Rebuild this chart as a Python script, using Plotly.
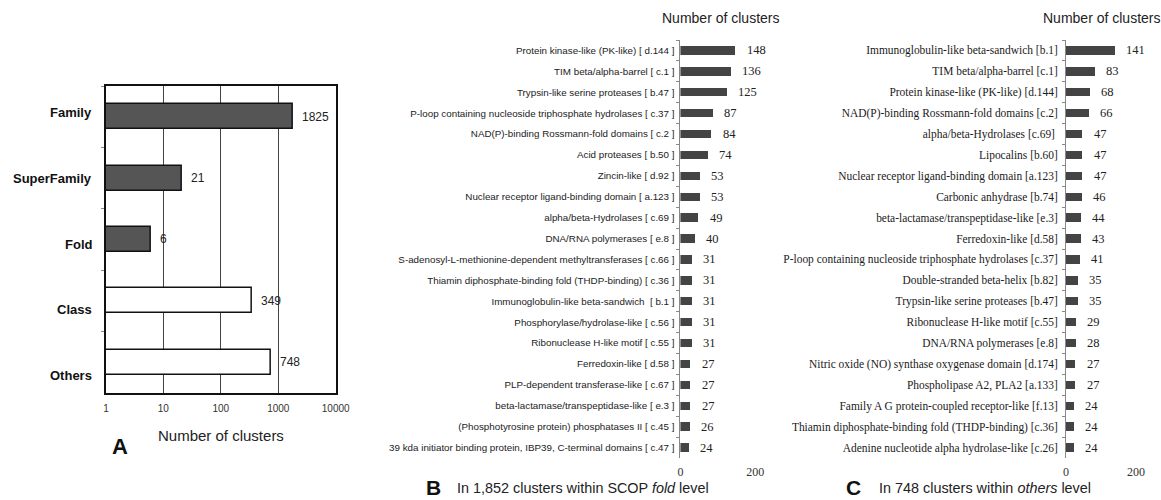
import numpy as np
import plotly.graph_objects as go

W, H = 1161, 500
FIG_W = 1177  # browser viewport renders slightly wider than the image

# ---- Data ----
a_categories = ["Family", "SuperFamily", "Fold", "Class", "Others"]
a_values = [1825, 21, 6, 349, 748]
a_filled = [True, True, True, False, False]

b_categories = [
    "Protein kinase-like (PK-like) [ d.144 ]",
    "TIM beta/alpha-barrel [ c.1 ]",
    "Trypsin-like serine proteases [ b.47 ]",
    "P-loop containing nucleoside triphosphate hydrolases [ c.37 ]",
    "NAD(P)-binding Rossmann-fold domains [ c.2 ]",
    "Acid proteases [ b.50 ]",
    "Zincin-like [ d.92 ]",
    "Nuclear receptor ligand-binding domain [ a.123 ]",
    "alpha/beta-Hydrolases [ c.69 ]",
    "DNA/RNA polymerases [ e.8 ]",
    "S-adenosyl-L-methionine-dependent methyltransferases [ c.66 ]",
    "Thiamin diphosphate-binding fold (THDP-binding) [ c.36 ]",
    "Immunoglobulin-like beta-sandwich  [ b.1 ]",
    "Phosphorylase/hydrolase-like [ c.56 ]",
    "Ribonuclease H-like motif [ c.55 ]",
    "Ferredoxin-like [ d.58 ]",
    "PLP-dependent transferase-like [ c.67 ]",
    "beta-lactamase/transpeptidase-like [ e.3 ]",
    "(Phosphotyrosine protein) phosphatases II [ c.45 ]",
    "39 kda initiator binding protein, IBP39, C-terminal domains [ c.47 ]",
]
b_values = [148, 136, 125, 87, 84, 74, 53, 53, 49, 40, 31, 31, 31, 31, 31, 27, 27, 27, 26, 24]

c_categories = [
    "Immunoglobulin-like beta-sandwich [b.1]",
    "TIM beta/alpha-barrel [c.1]",
    "Protein kinase-like (PK-like) [d.144]",
    "NAD(P)-binding Rossmann-fold domains [c.2]",
    "alpha/beta-Hydrolases [c.69] ",
    "Lipocalins [b.60]",
    "Nuclear receptor ligand-binding domain [a.123]",
    "Carbonic anhydrase [b.74]",
    "beta-lactamase/transpeptidase-like [e.3]",
    "Ferredoxin-like [d.58]",
    "P-loop containing nucleoside triphosphate hydrolases [c.37]",
    "Double-stranded beta-helix [b.82]",
    "Trypsin-like serine proteases [b.47]",
    "Ribonuclease H-like motif [c.55]",
    "DNA/RNA polymerases [e.8]",
    "Nitric oxide (NO) synthase oxygenase domain [d.174]",
    "Phospholipase A2, PLA2 [a.133]",
    "Family A G protein-coupled receptor-like [f.13]",
    "Thiamin diphosphate-binding fold (THDP-binding) [c.36]",
    "Adenine nucleotide alpha hydrolase-like [c.26]",
]
c_values = [141, 83, 68, 66, 47, 47, 47, 46, 44, 43, 41, 35, 35, 29, 28, 27, 27, 24, 24, 24]

a_ticks = [1, 10, 100, 1000, 10000]

SANS = "Liberation Sans, Arial, sans-serif"
SERIF = "Liberation Serif, Times New Roman, serif"


def px(x):
    return x / W


def py(y):
    return 1 - y / H


fig = go.Figure()

# Panel A
fig.add_trace(go.Bar(
    x=a_values, y=a_categories, orientation="h",
    marker=dict(color=["#555555" if f else "#ffffff" for f in a_filled],
                line=dict(color="#111111", width=1.5)),
    width=0.41, xaxis="x", yaxis="y", showlegend=False, hoverinfo="x+y",
))

# Panel B
fig.add_trace(go.Bar(
    x=b_values, y=b_categories, orientation="h",
    marker=dict(color="#444444", line=dict(width=0)),
    width=0.4, xaxis="x2", yaxis="y2", showlegend=False,
))

# Panel C
fig.add_trace(go.Bar(
    x=c_values, y=c_categories, orientation="h",
    marker=dict(color="#444444", line=dict(width=0)),
    width=0.4, xaxis="x3", yaxis="y3", showlegend=False,
))

annotations = []
# Panel A category labels (spread slightly wider than the bars, as in the original)
for i, c in enumerate(a_categories):
    annotations.append(dict(x=px(91), y=py(113 + 65.5 * i), xref="paper", yref="paper",
                            text="<b>%s</b>" % c, showarrow=False,
                            xanchor="right", yanchor="middle",
                            font=dict(family=SANS, size=13, color="#111")))
for c, v in zip(a_categories, a_values):
    annotations.append(dict(x=np.log10(v), y=c, xref="x", yref="y", text=str(v),
                            showarrow=False, xanchor="left", xshift=7,
                            font=dict(family=SANS, size=12, color="#222")))
for c, v in zip(b_categories, b_values):
    annotations.append(dict(x=v, y=c, xref="x2", yref="y2", text=str(v),
                            showarrow=False, xanchor="left", xshift=9,
                            font=dict(family=SERIF, size=12.5, color="#222")))
for c, v in zip(c_categories, c_values):
    annotations.append(dict(x=v, y=c, xref="x3", yref="y3", text=str(v),
                            showarrow=False, xanchor="left", xshift=9,
                            font=dict(family=SERIF, size=12.5, color="#222")))

# Titles / labels
annotations += [
    dict(x=px(218), y=py(435), xref="paper", yref="paper", text="Number of clusters",
         showarrow=False, xanchor="center", yanchor="middle",
         font=dict(family=SANS, size=15, color="#222")),
    dict(x=px(117), y=py(446), xref="paper", yref="paper", text="<b>A</b>",
         showarrow=False, xanchor="center", yanchor="middle",
         font=dict(family=SANS, size=22, color="#111")),
    dict(x=px(718), y=py(18), xref="paper", yref="paper", text="Number of clusters",
         showarrow=False, xanchor="center", yanchor="middle",
         font=dict(family=SANS, size=14, color="#222")),
    dict(x=px(1160), y=py(18), xref="paper", yref="paper", text="Number of clusters",
         showarrow=False, xanchor="right", yanchor="middle",
         font=dict(family=SANS, size=14, color="#222")),
    dict(x=px(431), y=py(487), xref="paper", yref="paper", text="<b>B</b>",
         showarrow=False, xanchor="center", yanchor="middle",
         font=dict(family=SANS, size=21, color="#111")),
    dict(x=px(452), y=py(488), xref="paper", yref="paper", xanchor="left", yanchor="middle",
         text="In 1,852 clusters within SCOP <i>fold</i> level",
         showarrow=False, font=dict(family=SANS, size=14.4, color="#222")),
    dict(x=px(851), y=py(487), xref="paper", yref="paper", text="<b>C</b>",
         showarrow=False, xanchor="center", yanchor="middle",
         font=dict(family=SANS, size=21, color="#111")),
    dict(x=px(875), y=py(488), xref="paper", yref="paper", xanchor="left", yanchor="middle",
         text="In 748 clusters within <i>others</i> level",
         showarrow=False, font=dict(family=SANS, size=14.4, color="#222")),
]

fig.update_layout(
    width=FIG_W, height=H,
    margin=dict(l=0, r=0, t=0, b=0),
    paper_bgcolor="white", plot_bgcolor="white",
    bargap=0,
    annotations=annotations,
    xaxis=dict(
        domain=[px(103), px(333)], anchor="y", type="log", range=[0, 4],
        tickvals=a_ticks, ticktext=[str(t) for t in a_ticks],
        showgrid=True, gridcolor="#444444", gridwidth=1,
        showline=True, linecolor="#111111", linewidth=2, mirror=True,
        ticks="", zeroline=False, ticklabelstandoff=5,
        tickfont=dict(family=SANS, size=10, color="#333"),
    ),
    yaxis=dict(
        domain=[py(393), py(86)], anchor="x", autorange="reversed",
        categoryorder="array", categoryarray=a_categories,
        showline=True, linecolor="#111111", linewidth=2, mirror=True,
        ticks="outside", tickson="boundaries", ticklen=3, tickcolor="#888",
        showgrid=False, showticklabels=False,
    ),
    xaxis2=dict(
        domain=[px(678), px(753)], anchor="y2", range=[0, 200],
        tickvals=[0, 200], showgrid=True, gridcolor="#888888", gridwidth=1,
        showline=False, zeroline=False, ticks="", ticklabelstandoff=5,
        tickfont=dict(family=SERIF, size=12, color="#333"),
    ),
    yaxis2=dict(
        domain=[py(458), py(40)], anchor="x2", autorange="reversed",
        categoryorder="array", categoryarray=b_categories,
        showline=True, linecolor="#888888", linewidth=1,
        ticks="outside", tickson="boundaries", ticklen=3, tickcolor="#888",
        showgrid=False, ticklabelstandoff=3,
        tickfont=dict(family=SANS, size=9.8, color="#222"),
    ),
    xaxis3=dict(
        domain=[px(1064), px(1134)], anchor="y3", range=[0, 200],
        tickvals=[0, 200], showgrid=True, gridcolor="#888888", gridwidth=1,
        showline=False, zeroline=False, ticks="", ticklabelstandoff=5,
        tickfont=dict(family=SERIF, size=12, color="#333"),
    ),
    yaxis3=dict(
        domain=[py(458), py(40)], anchor="x3", autorange="reversed",
        categoryorder="array", categoryarray=c_categories,
        showline=True, linecolor="#888888", linewidth=1,
        ticks="outside", tickson="boundaries", ticklen=3, tickcolor="#888",
        showgrid=False, ticklabelstandoff=5,
        tickfont=dict(family=SERIF, size=11.45, color="#1a1a1a"),
    ),
)

fig.write_html("out.html", config={"displayModeBar": False},
               post_script="document.body.style.margin='0px';document.body.style.overflow='hidden';")
